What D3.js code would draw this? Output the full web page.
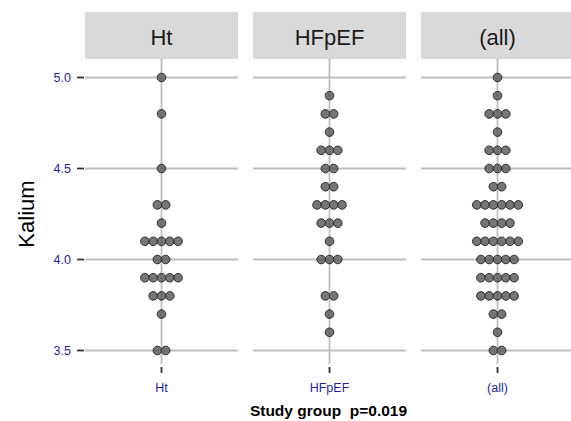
<!DOCTYPE html>
<html>
<head>
<meta charset="utf-8">
<script src="https://cdn.jsdelivr.net/npm/d3@7"></script>
<style>
  body { margin: 0; background: #fff; }
  svg { display: block; font-family: "Liberation Sans", Arial, sans-serif; }
</style>
</head>
<body>
<svg id="chart" width="571" height="421"></svg>
<script>
// study groups (facets)
var groups = ["Ht", "HFpEF", "(all)"];

// Kalium values, one entry per patient
var htValues = [5.0, 4.8, 4.5, 4.3, 4.3, 4.2,
  4.1, 4.1, 4.1, 4.1, 4.1, 4.0, 4.0,
  3.9, 3.9, 3.9, 3.9, 3.9, 3.8, 3.8, 3.8, 3.7, 3.5, 3.5];

var hfpefValues = [4.9, 4.8, 4.8, 4.7, 4.6, 4.6, 4.6, 4.5, 4.5, 4.4, 4.4,
  4.3, 4.3, 4.3, 4.3, 4.2, 4.2, 4.2, 4.1, 4.0, 4.0, 4.0,
  3.8, 3.8, 3.7, 3.6];

var allValues = [5.0, 4.9, 4.8, 4.8, 4.8, 4.7, 4.6, 4.6, 4.6, 4.5, 4.5, 4.5, 4.4, 4.4,
  4.3, 4.3, 4.3, 4.3, 4.3, 4.3, 4.2, 4.2, 4.2, 4.2,
  4.1, 4.1, 4.1, 4.1, 4.1, 4.1, 4.0, 4.0, 4.0, 4.0, 4.0,
  3.9, 3.9, 3.9, 3.9, 3.9, 3.8, 3.8, 3.8, 3.8, 3.8,
  3.7, 3.7, 3.6, 3.5, 3.5];

var yTicks = [3.5, 4.0, 4.5, 5.0];
var yLabel = "Kalium";
var xTitle = "Study group  p=0.019";

var series = { "Ht": htValues, "HFpEF": hfpefValues, "(all)": allValues };

var svg = d3.select("#chart");

var panelTop = 59, panelBottom = 364;
var stripTop = 12;

var x = d3.scaleBand()
    .domain(groups)
    .range([85, 574])
    .paddingInner(0.0893)
    .paddingOuter(0);

var y = d3.scaleLinear()
    .domain([3.5, 5.0])
    .range([350.5, 77.5]);

var dotR = 4.3, dotStep = 8.3;

groups.forEach(function(g) {
  var x0 = x(g), bw = x.bandwidth(), cx = x0 + bw / 2;
  var panel = svg.append("g");

  // strip
  panel.append("rect")
      .attr("x", x0).attr("y", stripTop)
      .attr("width", bw).attr("height", panelTop - stripTop)
      .attr("fill", "#d9d9d9");
  panel.append("text")
      .attr("x", cx).attr("y", 45)
      .attr("text-anchor", "middle")
      .attr("font-size", 22)
      .attr("fill", "#1a1a1a")
      .text(g);

  // grid
  panel.selectAll("line.hgrid").data(yTicks).enter().append("line")
      .attr("class", "hgrid")
      .attr("x1", x0).attr("x2", x0 + bw)
      .attr("y1", function(d) { return y(d); })
      .attr("y2", function(d) { return y(d); })
      .attr("stroke", "#bebebe").attr("stroke-width", 1.8);
  panel.append("line")
      .attr("x1", cx).attr("x2", cx)
      .attr("y1", panelTop).attr("y2", panelBottom)
      .attr("stroke", "#bebebe").attr("stroke-width", 1.8);

  // x tick + label
  panel.append("line")
      .attr("x1", cx).attr("x2", cx)
      .attr("y1", 367).attr("y2", 373)
      .attr("stroke", "#333").attr("stroke-width", 1.8);
  panel.append("text")
      .attr("x", cx).attr("y", 392)
      .attr("text-anchor", "middle")
      .attr("font-size", 12.5)
      .attr("fill", "#1f1fa6")
      .text(g);

  // dots, stacked from the centre
  var counts = d3.rollup(series[g], function(v) { return v.length; }, function(d) { return d; });
  var dots = [];
  counts.forEach(function(n, v) {
    for (var i = 0; i < n; i++) dots.push({ v: v, off: (i - (n - 1) / 2) * dotStep });
  });
  panel.selectAll("circle").data(dots).enter().append("circle")
      .attr("cx", function(d) { return cx + d.off; })
      .attr("cy", function(d) { return y(d.v); })
      .attr("r", dotR)
      .attr("fill", "#5e5e5e").attr("fill-opacity", 0.85)
      .attr("stroke", "#2e2e2e").attr("stroke-width", 1);
});

// y axis
var yAxis = svg.append("g");
yAxis.selectAll("line").data(yTicks).enter().append("line")
    .attr("x1", 77).attr("x2", 84)
    .attr("y1", function(d) { return y(d); })
    .attr("y2", function(d) { return y(d); })
    .attr("stroke", "#333").attr("stroke-width", 1.8);
yAxis.selectAll("text").data(yTicks).enter().append("text")
    .attr("x", 71)
    .attr("y", function(d) { return y(d); })
    .attr("dy", "0.35em")
    .attr("text-anchor", "end")
    .attr("font-size", 12.5)
    .attr("fill", "#1f1fa6")
    .text(d3.format(".1f"));

svg.append("text")
    .attr("transform", "translate(34," + 214 + ") rotate(-90)")
    .attr("text-anchor", "middle")
    .attr("font-size", 22)
    .attr("fill", "#000")
    .text(yLabel);

svg.append("text")
    .attr("x", 328.5).attr("y", 416)
    .attr("text-anchor", "middle")
    .attr("font-size", 15.5)
    .attr("font-weight", "bold")
    .style("white-space", "pre")
    .attr("fill", "#000")
    .text(xTitle);
</script>
</body>
</html>
